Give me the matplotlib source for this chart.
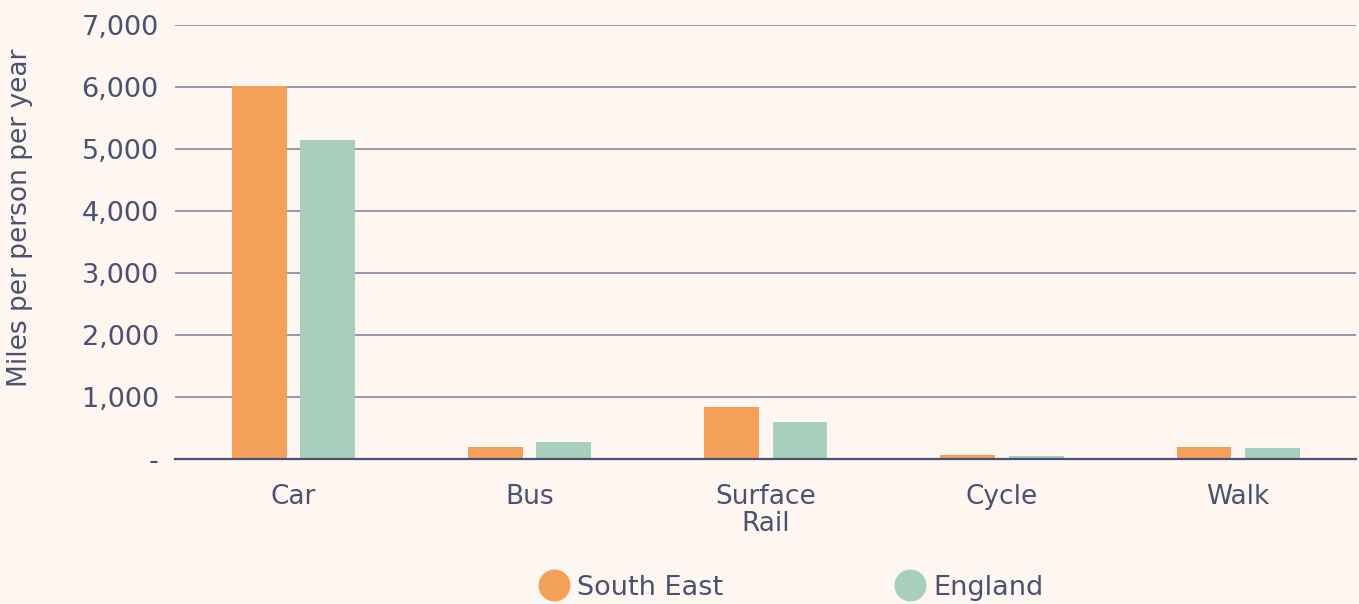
import matplotlib
matplotlib.use("Agg")
import matplotlib.pyplot as plt
from matplotlib.lines import Line2D
from matplotlib.ticker import FuncFormatter
import numpy as np

categories = ["Car", "Bus", "Surface\nRail", "Cycle", "Walk"]
series_names = ["South East", "England"]
south_east = [6010, 195, 840, 58, 195]
england = [5150, 275, 600, 45, 185]
y_ticks = [0, 1000, 2000, 3000, 4000, 5000, 6000, 7000]

BG = "#fef6f0"
TEXT = "#4a5272"
ORANGE = "#f5a05a"
GREEN = "#a8cfbd"

plt.rcParams['font.family'] = ['DejaVu Sans']

fig = plt.figure(figsize=(13.59, 6.04), dpi=100, facecolor=BG)
ax = fig.add_axes([0.129, 0.240, 0.869, 0.719], facecolor=BG)

x = np.arange(len(categories))
w = 0.232
off = 0.145
ax.bar(x - off, south_east, width=w, color=ORANGE, zorder=3)
ax.bar(x + off, england, width=w, color=GREEN, zorder=3)

ax.set_xlim(-0.5, len(categories) - 0.5)
ax.set_ylim(0, 7000)
ax.set_yticks(y_ticks)
ax.yaxis.set_major_formatter(FuncFormatter(lambda v, p: "-" if v == 0 else f"{int(v):,}"))
ax.grid(axis="y", color="#8d92a8", linewidth=1.3, zorder=0)
ax.set_axisbelow(True)
for s in ["top", "right", "left"]:
    ax.spines[s].set_visible(False)
ax.spines["bottom"].set_color(TEXT)
ax.spines["bottom"].set_linewidth(1.6)
ax.spines["bottom"].set_zorder(4)

ax.set_xticks(x)
ax.set_xticklabels(categories, linespacing=1.05)
ax.tick_params(axis="x", length=0, pad=18, labelsize=19, labelcolor=TEXT)
ax.tick_params(axis="y", length=0, pad=12, labelsize=19.5, labelcolor=TEXT)

fig.text(20 / 1359, 1 - 218 / 604, "Miles per person per year", rotation=90,
         ha="center", va="center", fontsize=19, color=TEXT)

handles = [Line2D([], [], marker="o", linestyle="none", markersize=22, color=c)
           for c in (ORANGE, GREEN)]
fig.legend(handles, series_names, loc="center", bbox_to_anchor=(0.583, 0.027),
           ncol=2, frameon=False, labelcolor=TEXT, fontsize=19.5,
           handletextpad=0.35, columnspacing=6.4, handlelength=1.0)

fig.savefig("out.png", dpi=100, facecolor=BG)
